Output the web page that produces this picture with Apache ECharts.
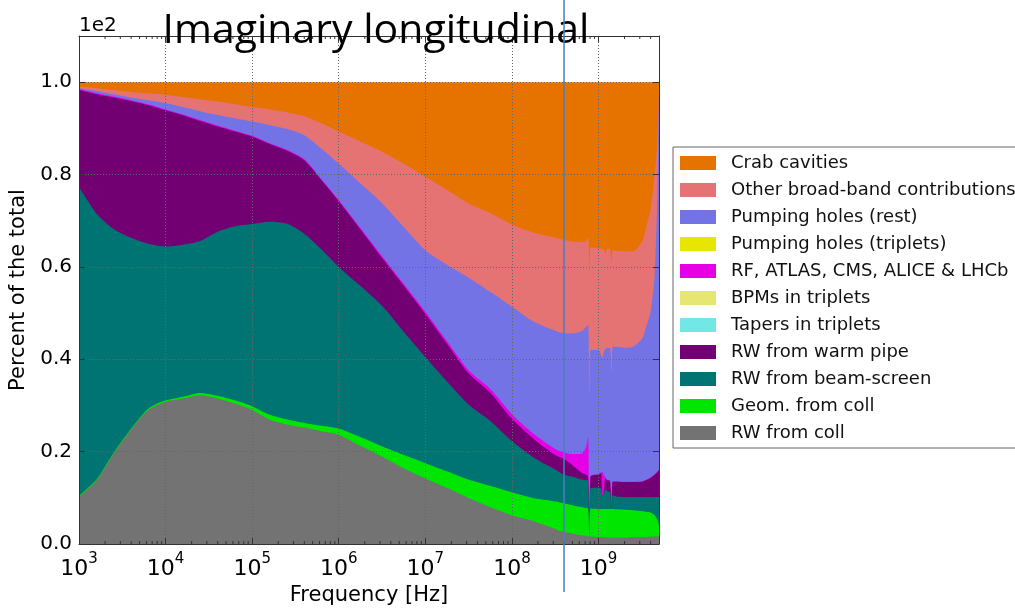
<!DOCTYPE html>
<html>
<head>
<meta charset="utf-8">
<script src="https://cdn.jsdelivr.net/npm/echarts@6/dist/echarts.min.js"></script>
<style>
  html, body { margin: 0; padding: 0; background: #fff; }
  #chart { width: 1015px; height: 608px; }
</style>
</head>
<body>
<div id="chart"></div>
<script>
// Frequency samples [Hz]
const freqHz = [
  1e3, 1.6e3, 2.5e3, 4e3, 6.3e3, 1e4, 1.6e4, 2.5e4, 4e4, 6.3e4,
  1e5, 1.6e5, 2.5e5, 4e5, 6.3e5, 1e6, 1.8e6, 3.2e6, 5.6e6, 1e7,
  1.8e7, 3.2e7, 5.6e7, 1e8, 1.8e8, 3.2e8, 4e8, 5e8, 6.3e8, 7.2e8,
  7.6e8, 7.85e8, 8.1e8, 1e9, 1.07e9, 1.11e9, 1.15e9, 1.2e9, 1.26e9, 1.36e9,
  1.41e9, 1.46e9, 1.6e9, 2e9, 2.5e9, 3.2e9, 3.55e9, 4e9, 4.45e9, 4.8e9,
  5e9
];

// Share of the imaginary longitudinal impedance per contribution [%]
const rwColl = [
  10.2, 13.8, 19.5, 24.8, 29.0, 30.8, 31.5, 32.2, 31.5, 30.4,
  29.0, 26.9, 25.9, 25.2, 24.4, 23.6, 21.2, 18.9, 16.4, 14.2,
  12.1, 9.9, 8.0, 6.2, 4.9, 3.2, 2.6, 2.3, 1.9, 1.8,
  1.7, 1.6, 1.6, 1.5, 1.5, 1.5, 1.5, 1.5, 1.4, 1.4,
  1.4, 1.4, 1.4, 1.4, 1.5, 1.5, 1.5, 1.6, 1.6, 1.6,
  1.6
];
const geomColl = [
  0.2, 0.2, 0.2, 0.2, 0.3, 0.3, 0.4, 0.5, 0.6, 0.7,
  0.8, 1.1, 1.1, 1.0, 1.2, 1.4, 1.9, 2.2, 2.9, 3.3,
  3.6, 4.0, 4.6, 5.0, 5.0, 6.0, 6.2, 6.1, 6.1, 6.0,
  6.0, 0.0, 6.1, 6.1, 6.1, 6.1, 6.1, 6.1, 6.2, 6.2,
  6.2, 6.2, 6.1, 6.0, 5.8, 5.6, 5.5, 5.2, 4.6, 3.6,
  2.4
];
const rwBeamScreen = [
  66.9, 57.5, 48.5, 41.3, 35.7, 33.3, 32.9, 32.9, 35.5, 37.7,
  39.5, 41.8, 42.4, 41.0, 38.2, 35.0, 32.7, 30.4, 26.7, 23.0,
  19.4, 16.2, 14.1, 11.1, 8.8, 6.9, 6.2, 6.2, 6.0, 6.0,
  6.0, 0.0, 4.4, 4.6, 4.4, 2.9, 3.2, 4.2, 3.9, 3.6,
  0.0, 3.0, 2.8, 2.8, 2.9, 3.1, 3.2, 3.4, 4.0, 5.0,
  6.2
];
const rwWarmPipe = [
  21.0, 25.9, 28.5, 29.6, 30.0, 29.5, 28.0, 26.0, 22.8, 20.5,
  18.9, 16.8, 15.8, 15.9, 15.0, 14.2, 12.2, 10.3, 10.0, 9.3,
  8.1, 6.7, 6.1, 4.8, 4.0, 3.1, 3.4, 2.5, 1.5, 1.2,
  0.8, 0.0, 2.5, 2.8, 3.3, 0.0, 0.2, 2.4, 2.3, 2.4,
  0.0, 2.9, 3.2, 3.2, 3.2, 3.3, 3.6, 4.1, 4.8, 5.4,
  5.8
];
const tapersTriplets = [
  0, 0, 0, 0, 0, 0, 0, 0, 0, 0,
  0, 0, 0, 0, 0, 0, 0, 0, 0, 0,
  0, 0, 0, 0, 0, 0, 0, 0, 0, 0,
  0, 0, 0, 0, 0, 0, 0, 0, 0, 0,
  0, 0, 0, 0, 0, 0, 0, 0, 0, 0,
  0
];
const bpmsTriplets = [
  0, 0, 0, 0, 0, 0, 0, 0, 0, 0,
  0, 0, 0, 0, 0, 0, 0, 0, 0, 0,
  0, 0, 0, 0, 0, 0, 0, 0, 0, 0,
  0, 0, 0, 0, 0, 0, 0, 0, 0, 0,
  0, 0, 0, 0, 0, 0, 0, 0, 0, 0,
  0
];
const rfExperiments = [
  0.2, 0.2, 0.2, 0.2, 0.2, 0.2, 0.2, 0.2, 0.2, 0.2,
  0.2, 0.2, 0.2, 0.2, 0.2, 0.3, 0.3, 0.4, 0.4, 0.5,
  0.6, 0.7, 0.8, 1.0, 1.1, 1.3, 1.4, 2.4, 4.0, 6.0,
  8.7, 0.0, 0.0, 0.2, 0.2, 5.1, 4.0, 0.2, 0.1, 0.1,
  0.0, 0.1, 0.1, 0.1, 0.1, 0.1, 0.1, 0.1, 0.1, 0.1,
  0.1
];
const pumpingTriplets = [
  0, 0, 0, 0, 0, 0, 0, 0, 0, 0,
  0, 0, 0, 0, 0, 0, 0, 0, 0, 0,
  0, 0, 0, 0, 0, 0, 0, 0, 0, 0,
  0, 0, 0, 0, 0, 0, 0, 0, 0, 0,
  0, 0, 0, 0, 0, 0, 0, 0, 0, 0,
  0
];
const pumpingRest = [
  0.2, 0.5, 0.5, 0.6, 0.9, 1.4, 1.6, 1.9, 2.3, 2.7,
  3.1, 3.9, 4.5, 5.2, 6.6, 7.9, 9.7, 11.5, 12.3, 13.3,
  16.6, 20.1, 21.0, 23.3, 24.3, 25.6, 25.8, 26.1, 26.5, 26.0,
  24.2, 30.7, 27.4, 26.8, 25.5, 24.7, 26.5, 27.9, 28.5, 28.8,
  29.4, 29.1, 29.1, 29.0, 29.2, 30.9, 33.1, 35.9, 42.9, 60.3,
  81.9
];
const otherBroadBand = [
  0.3, 0.6, 0.9, 1.2, 1.5, 1.8, 2.2, 2.6, 2.9, 3.0,
  3.1, 3.4, 3.6, 4.1, 5.5, 6.9, 9.1, 11.2, 13.7, 15.9,
  16.2, 16.1, 17.1, 17.8, 19.3, 20.2, 20.2, 19.9, 19.4, 18.6,
  19.2, 25.9, 22.2, 22.0, 23.0, 23.5, 22.5, 20.5, 21.6, 21.3,
  23.8, 20.9, 20.8, 20.9, 20.7, 21.0, 21.5, 22.2, 22.0, 11.0,
  1.5
];
const crabCavities = [
  1.0, 1.3, 1.7, 2.1, 2.4, 2.7, 3.2, 3.7, 4.2, 4.8,
  5.4, 5.9, 6.5, 7.4, 8.9, 10.7, 12.9, 15.1, 17.6, 20.5,
  23.4, 26.3, 28.3, 30.8, 32.6, 33.7, 34.2, 34.5, 34.6, 34.4,
  33.4, 41.8, 35.8, 36.0, 36.0, 36.2, 36.0, 37.2, 36.0, 36.2,
  39.2, 36.4, 36.5, 36.6, 36.6, 34.5, 31.5, 27.5, 20.0, 13.0,
  0.5
];

// Stacking order, bottom layer first
const layers = [
  { name: 'RW from coll', values: rwColl, color: '#737373' },
  { name: 'Geom. from coll', values: geomColl, color: '#00e600' },
  { name: 'RW from beam-screen', values: rwBeamScreen, color: '#007373' },
  { name: 'RW from warm pipe', values: rwWarmPipe, color: '#730073' },
  { name: 'Tapers in triplets', values: tapersTriplets, color: '#73e6e6' },
  { name: 'BPMs in triplets', values: bpmsTriplets, color: '#e6e673' },
  { name: 'RF, ATLAS, CMS, ALICE & LHCb', values: rfExperiments, color: '#e600e6' },
  { name: 'Pumping holes (triplets)', values: pumpingTriplets, color: '#e6e600' },
  { name: 'Pumping holes (rest)', values: pumpingRest, color: '#7373e6' },
  { name: 'Other broad-band contributions', values: otherBroadBand, color: '#e67373' },
  { name: 'Crab cavities', values: crabCavities, color: '#e67300' }
];

const titleText = 'Imaginary longitudinal';
const xAxisTitle = 'Frequency [Hz]';
const yAxisTitle = 'Percent of the total';
const yScaleNote = '1e2';
const markerHz = 4e8;
const freqMin = 1e3;
const freqMax = 5e9;
const yMax = 110;

// Minor log ticks (2..9 per decade)
const minorTickHz = [];
for (let e = 3; e <= 9; e++) {
  for (let k = 2; k <= 9; k++) {
    const f = k * Math.pow(10, e);
    if (f < freqMax) minorTickHz.push(f);
  }
}

// Running totals: each layer's upper edge is the sum of itself and everything below.
const upperEdges = [];
let running = freqHz.map(() => 0);
layers.forEach(l => {
  running = running.map((r, i) => r + l.values[i]);
  upperEdges.push(running.slice());
});

const labelFont = 'DejaVu Sans';
const frameColor = '#333';
const gridLineStyle = { color: '#666', width: 1, type: [1, 2] };

const chart = echarts.init(document.getElementById('chart'), null, { renderer: 'canvas' });

// Painted from the top layer downwards, each filled to the axis, so every
// band shows between its own edge and the edge of the layer beneath it.
const areaSeries = layers.map((l, k) => ({
  name: l.name,
  type: 'line',
  xAxisIndex: 0,
  yAxisIndex: 0,
  data: freqHz.map((f, i) => [f, upperEdges[k][i]]),
  symbol: 'none',
  showSymbol: false,
  smooth: 0.25,
  color: l.color,
  itemStyle: { color: l.color },
  lineStyle: { width: 0, color: l.color },
  areaStyle: { color: l.color, opacity: l.values.some(v => v > 0) ? 1 : 0, origin: 'start' },
  emphasis: { disabled: true },
  z: 2
})).reverse();

const minorTicks = {
  type: 'custom',
  xAxisIndex: 0,
  yAxisIndex: 0,
  silent: true,
  clip: false,
  z: 6,
  data: minorTickHz.map(f => [f, 0]),
  renderItem: (params, api) => {
    const b = api.coord([api.value(0), 0]);
    const t = api.coord([api.value(0), yMax]);
    return {
      type: 'group',
      children: [
        { type: 'line', shape: { x1: b[0], y1: b[1], x2: b[0], y2: b[1] - 3 }, style: { stroke: frameColor, lineWidth: 1 } },
        { type: 'line', shape: { x1: t[0], y1: t[1], x2: t[0], y2: t[1] + 3 }, style: { stroke: frameColor, lineWidth: 1 } }
      ]
    };
  }
};

function decadeLabel(v) {
  const e = Math.log10(v);
  const n = Math.round(e);
  if (Math.abs(e - n) > 1e-6) return '';
  return '{b|10}{s|' + n + '}';
}

const option = {
  animation: false,
  backgroundColor: '#fff',
  grid: { left: 79, right: 356, top: 36, bottom: 64, containLabel: false, outerBoundsMode: 'none' },
  legend: {
    orient: 'vertical',
    left: 673,
    top: 147,
    padding: [7, 8, 6, 7],
    itemWidth: 36,
    itemHeight: 14,
    itemGap: 9,
    icon: 'rect',
    selectedMode: false,
    borderColor: '#666',
    borderWidth: 1,
    backgroundColor: '#fff',
    textStyle: { fontFamily: labelFont, fontSize: 18, color: '#111', padding: [0, 0, 0, 10] },
    data: layers.map(l => l.name).reverse()
  },
  xAxis: [
    {
      type: 'log',
      logBase: 10,
      min: freqMin,
      max: freqMax,
      interval: 1,
      position: 'bottom',
      z: 5,
      name: xAxisTitle,
      nameLocation: 'middle',
      nameGap: 41,
      nameTextStyle: { fontFamily: labelFont, fontSize: 21, color: '#000' },
      axisLine: { show: true, onZero: false, lineStyle: { color: frameColor, width: 1 } },
      axisTick: { show: true, inside: true, length: 6, lineStyle: { color: frameColor } },
      minorTick: { show: false },
      axisLabel: {
        margin: 8,
        formatter: decadeLabel,
        rich: {
          b: { fontFamily: labelFont, fontSize: 22, color: '#000', verticalAlign: 'bottom' },
          s: { fontFamily: labelFont, fontSize: 15, color: '#000', verticalAlign: 'bottom', padding: [0, 0, 13, 0] }
        }
      },
      splitLine: { show: true, lineStyle: gridLineStyle }
    },
    {
      type: 'log',
      logBase: 10,
      min: freqMin,
      max: freqMax,
      interval: 1,
      position: 'top',
      z: 5,
      axisLine: { show: true, onZero: false, lineStyle: { color: frameColor, width: 1 } },
      axisTick: { show: true, inside: true, length: 6, lineStyle: { color: frameColor } },
      axisLabel: { show: false },
      splitLine: { show: false }
    }
  ],
  yAxis: [
    {
      type: 'value',
      min: 0,
      max: yMax,
      interval: 20,
      position: 'left',
      z: 5,
      name: yAxisTitle,
      nameLocation: 'middle',
      nameGap: 46,
      nameRotate: 90,
      nameTextStyle: { fontFamily: labelFont, fontSize: 21, color: '#000' },
      axisLine: { show: true, onZero: false, lineStyle: { color: frameColor, width: 1 } },
      axisTick: { show: true, inside: true, length: 6, lineStyle: { color: frameColor } },
      axisLabel: {
        margin: 7,
        fontFamily: labelFont,
        fontSize: 20,
        color: '#000',
        formatter: v => (v > 100 ? '' : (v / 100).toFixed(1))
      },
      splitLine: { show: true, lineStyle: gridLineStyle }
    },
    {
      type: 'value',
      min: 0,
      max: yMax,
      interval: 20,
      position: 'right',
      z: 5,
      axisLine: { show: true, onZero: false, lineStyle: { color: frameColor, width: 1 } },
      axisTick: { show: true, inside: true, length: 6, lineStyle: { color: frameColor } },
      axisLabel: { show: false },
      splitLine: { show: false }
    }
  ],
  series: areaSeries.concat([minorTicks])
};

chart.setOption(option);

// Annotations: title, axis scale note and the marker line
const gridRect = { left: 79, top: 36 };
const markerX = chart.convertToPixel({ xAxisIndex: 0 }, markerHz);
chart.setOption({
  graphic: [
    {
      type: 'text',
      x: 376,
      y: 31,
      z: 20,
      style: { text: titleText, font: '41px "Open Sans"', fill: '#000', align: 'center', verticalAlign: 'middle' }
    },
    {
      type: 'text',
      x: gridRect.left,
      y: 26,
      z: 20,
      style: { text: yScaleNote, font: '20px "DejaVu Sans"', fill: '#000', align: 'left', verticalAlign: 'middle' }
    },
    {
      type: 'line',
      z: 20,
      shape: { x1: markerX, y1: 0, x2: markerX, y2: 592 },
      style: { stroke: '#4a7ebb', lineWidth: 1.5 }
    }
  ]
});
</script>
</body>
</html>
